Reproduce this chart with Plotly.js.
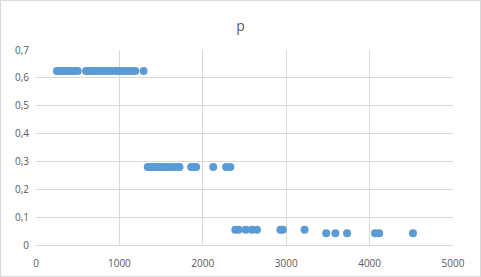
<!DOCTYPE html>
<html>
<head>
<meta charset="utf-8">
<script src="https://cdn.plot.ly/plotly-3.0.1.min.js"></script>
<style>
html,body{margin:0;padding:0;background:#fff;}
#wrap{position:absolute;left:0;top:0;width:481px;height:277px;box-sizing:border-box;border:1px solid #d9d9d9;}
#chart{position:absolute;left:0;top:0;width:479px;height:275px;}
</style>
</head>
<body>
<div id="wrap"><div id="chart"></div></div>
<script>
const xTop = [250,270,290,310,330,350,370,390,410,430,450,470,500,600,620,650,680,700,730,760,790,820,850,880,910,950,980,1010,1050,1080,1120,1150,1190,1290];
const yTop = xTop.map(() => 0.625);
const xMid = [1340,1360,1380,1400,1420,1440,1460,1480,1500,1530,1560,1590,1620,1650,1690,1720,1860,1890,1920,2125,2280,2330];
const yMid = xMid.map(() => 0.28);
const xLow1 = [2390,2430,2515,2590,2650,2930,2960,3220];
const yLow1 = xLow1.map(() => 0.055);
const xLow2 = [3480,3590,3730,4065,4115,4520];
const yLow2 = xLow2.map(() => 0.042);

const xs = xTop.concat(xMid, xLow1, xLow2);
const ys = yTop.concat(yMid, yLow1, yLow2);

const xTicks = [0,1000,2000,3000,4000,5000];
const yTicks = [0,0.1,0.2,0.3,0.4,0.5,0.6,0.7];

const trace = {
  x: xs, y: ys, type: 'scatter', mode: 'markers',
  marker: {color: '#5b9bd5', size: 8}, hoverinfo: 'skip'
};
const layout = {
  width: 479, height: 275,
  margin: {l: 35, r: 27, t: 49, b: 31, pad: 0},
  paper_bgcolor: '#ffffff', plot_bgcolor: '#ffffff',
  separators: ', ',
  showlegend: false,
  font: {family: 'Open Sans, sans-serif', size: 10, color: '#595959'},
  title: {text: 'p', x: 0.5, xanchor: 'center', y: 0.91, yanchor: 'middle', font: {size: 14, color: '#595959'}},
  xaxis: {
    range: [0, 5000], tickvals: xTicks, ticktext: xTicks.map(String),
    showgrid: true, gridcolor: '#d9d9d9', gridwidth: 1,
    zeroline: false, showline: true, linecolor: '#d9d9d9', mirror: false,
    ticks: '', ticklen: 0, ticklabelstandoff: 9, tickfont: {size: 10, color: '#595959'}
  },
  yaxis: {
    range: [0, 0.7], tickvals: yTicks, ticktext: yTicks.map(v => String(v).replace('.', ',')),
    showgrid: true, gridcolor: '#d9d9d9', gridwidth: 1,
    zeroline: false, showline: false,
    ticks: '', ticklen: 0, ticklabelstandoff: 6, tickfont: {size: 10, color: '#595959'}
  }
};
Plotly.newPlot('chart', [trace], layout, {displayModeBar: false, staticPlot: true});
</script>
</body>
</html>
